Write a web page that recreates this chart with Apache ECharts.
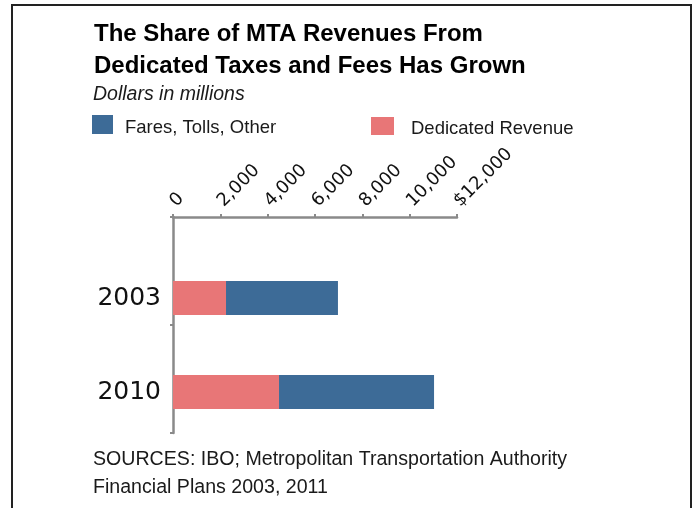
<!DOCTYPE html>
<html>
<head>
<meta charset="utf-8">
<script src="https://cdn.jsdelivr.net/npm/echarts@6/dist/echarts.min.js"></script>
<style>
  html, body { margin: 0; padding: 0; background: #fff; }
  #wrap { position: relative; width: 697px; height: 508px; overflow: hidden; }
  #chart { position: absolute; left: 0; top: 0; width: 697px; height: 508px; }
  #frame { position: absolute; left: 11px; top: 4px; width: 677px; height: 540px; border: 2px solid #222; pointer-events: none; }
</style>
</head>
<body>
<div id="wrap">
  <div id="chart"></div>
  <div id="frame"></div>
</div>
<script>
const categories = ['2003', '2010'];
const dedicatedRevenue = [2240, 4480];
const faresTollsOther = [4730, 6550];
const xTicks = [0, 2000, 4000, 6000, 8000, 10000, 12000];
const xMin = 0, xMax = 12000, xStep = 2000;

const titleText = 'The Share of MTA Revenues From\nDedicated Taxes and Fees Has Grown';
const subtitleText = 'Dollars in millions';
const sourceText = 'SOURCES: IBO; Metropolitan Transportation Authority\nFinancial Plans 2003, 2011';

const BLUE = '#3d6b97';
const PINK = '#e87677';
const AXIS = '#8a8a8a';

function fmtTick(v) {
  const s = v.toLocaleString('en-US');
  return v === xTicks[xTicks.length - 1] ? '$' + s : s;
}

const legendText = (padLeft) => ({
  fontFamily: 'Liberation Sans', fontSize: 18.5, color: '#1a1a1a',
  rich: { t: { fontFamily: 'Liberation Sans', fontSize: 18.5, color: '#1a1a1a', padding: [6, 0, 0, padLeft] } }
});

const chart = echarts.init(document.getElementById('chart'), null, { renderer: 'canvas' });
chart.setOption({
  animation: false,
  backgroundColor: '#fff',
  title: [
    { text: titleText, left: 89, top: 13,
      textStyle: { fontFamily: 'Liberation Sans', fontWeight: 'bold', fontSize: 24, lineHeight: 32, color: '#000' } },
    { text: subtitleText, left: 88, top: 80,
      textStyle: { fontFamily: 'Liberation Sans', fontStyle: 'italic', fontWeight: 'normal', fontSize: 19.5, color: '#1a1a1a' } },
    { text: sourceText, left: 88, top: 441,
      textStyle: { fontFamily: 'Liberation Sans', fontWeight: 'normal', fontSize: 19.6, lineHeight: 28, color: '#1a1a1a' } }
  ],
  legend: [
    { data: ['Fares, Tolls, Other'], left: 87, top: 110, icon: 'rect', itemWidth: 21, itemHeight: 19,
      formatter: (n) => '{t|' + n + '}', textStyle: legendText(7) },
    { data: ['Dedicated Revenue'], left: 366, top: 112, icon: 'rect', itemWidth: 23, itemHeight: 18,
      formatter: (n) => '{t|' + n + '}', textStyle: legendText(12) }
  ],
  grid: [
    { left: 173, right: 240, top: 251, bottom: 69, containLabel: false },
    { left: 173, width: 1, top: 217, bottom: 75, containLabel: false }
  ],
  xAxis: [
    { type: 'value', gridIndex: 0, position: 'top', offset: 34, min: xMin, max: xMax, interval: xStep,
      axisLine: { show: true, lineStyle: { color: AXIS, width: 2.5 } },
      axisTick: { show: true, inside: false, length: 3, lineStyle: { color: AXIS, width: 2 } },
      splitLine: { show: false },
      axisLabel: { rotate: -45, margin: 13, formatter: fmtTick,
        fontFamily: 'DejaVu Sans', fontSize: 18, color: '#111' } },
    { type: 'value', gridIndex: 1, show: false }
  ],
  yAxis: [
    { type: 'category', gridIndex: 0, inverse: true, data: categories,
      axisLine: { show: false }, axisTick: { show: false },
      axisLabel: { margin: 12, fontFamily: 'DejaVu Sans', fontSize: 25, color: '#111' } },
    { type: 'category', gridIndex: 1, inverse: true, data: categories, boundaryGap: true,
      axisLine: { show: true, lineStyle: { color: AXIS, width: 2.5 } },
      axisTick: { show: true, length: 3, lineStyle: { color: AXIS, width: 2 } },
      axisLabel: { show: false } }
  ],
  series: [
    { name: 'Dedicated Revenue', type: 'bar', stack: 'total', xAxisIndex: 0, yAxisIndex: 0,
      barWidth: 34, data: dedicatedRevenue, itemStyle: { color: PINK } },
    { name: 'Fares, Tolls, Other', type: 'bar', stack: 'total', xAxisIndex: 0, yAxisIndex: 0,
      barWidth: 34, data: faresTollsOther, itemStyle: { color: BLUE } }
  ]
});
</script>
</body>
</html>
